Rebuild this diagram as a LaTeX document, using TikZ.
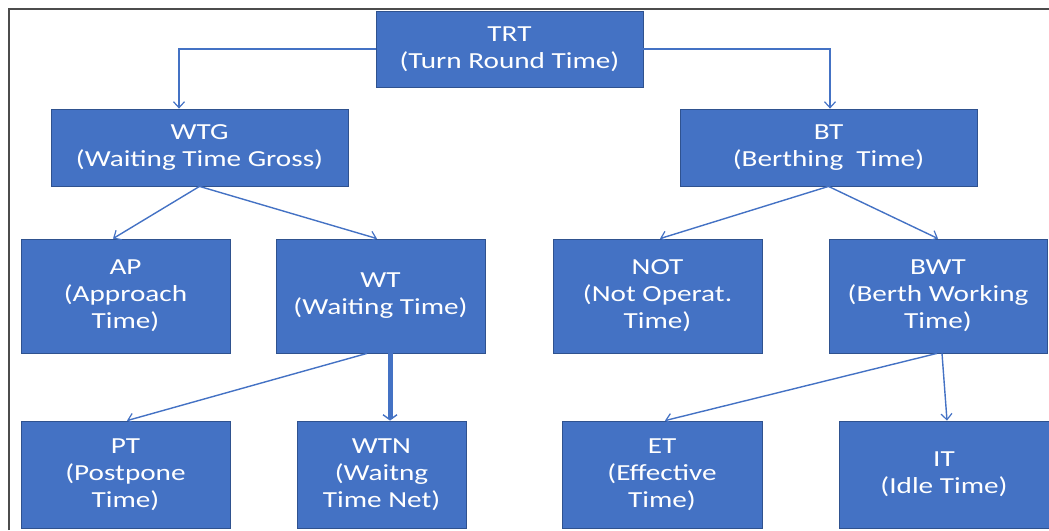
\documentclass[tikz,border=0pt]{standalone}
\usepackage{fontspec}
\setmainfont{Carlito}[FakeStretch=1.27]
\usetikzlibrary{arrows.meta}

\definecolor{boxblue}{HTML}{4472C4}
\definecolor{boxedge}{HTML}{2F528F}

\tikzset{
  box/.style={rectangle, draw=boxedge, line width=0.8pt, fill=boxblue, text=white,
    align=center, inner sep=2pt, font=\fontsize{23}{27}\selectfont},
  link/.style={draw=boxblue, line width=1.4pt, -{Straight Barb[length=6pt,width=11pt,line width=1.2pt]}},
  biglink/.style={link, line width=5pt, -{Straight Barb[length=5pt,width=14pt,line width=1.4pt]}},
  frame/.style={draw=black!70, line width=1.5pt}
}

\begin{document}
\begin{tikzpicture}[x=1pt, y=-1pt]
    \useasboundingbox (0,0) rectangle (1049,530);
    \draw[frame] (9,530) -- (9,9) -- (1049,9);

    % Nodes
    \foreach \n/\x/\y/\w/\h/\t in {
      TRT/509.5/49/267/76/{TRT\\(Turn Round Time)},
      WTG/199.5/147.5/297/77/{WTG\\(Waiting Time Gross)},
      BT/828.5/147.5/297/77/{BT\\(Berthing~ Time)},
      AP/125.5/296/209/114/{AP\\(Approach\\Time)},
      WT/380.5/296/209/114/{WT\\(Waiting Time)},
      NOT/657.5/296/209/114/{NOT\\(Not Operat.\\Time)},
      BWT/938/296/218/114/{BWT\\(Berth Working\\Time)},
      PT/125.5/474.5/209/107/{PT\\(Postpone\\Time)},
      WTN/381.5/474.5/169/107/{WTN\\(Waitng\\Time Net)},
      ET/662/474.5/200/107/{ET\\(Effective\\Time)},
      IT/944/474.5/210/107/{IT\\(Idle Time)}}
    \node[box, minimum width=\w pt, minimum height=\h pt] (\n) at (\x,\y) {\t};

    % Edges
    \draw[link] (TRT.west) -| ([xshift=-20.5pt]WTG.north);
    \draw[link] (TRT.east) -| ([xshift=1.5pt]BT.north);
    \foreach \a/\sa/\b/\sb in {WTG/0/AP/-12.5, WTG/0/WT/-3.5, BT/0/NOT/2.5, BT/0/BWT/0,
                               WT/-13.5/PT/1.5, BWT/-1/ET/3, BWT/4/IT/3}
    \draw[link] ([xshift=\sa pt]\a.south) -- ([xshift=\sb pt]\b.north);
    \draw[biglink] ([xshift=9.5pt]WT.south) -- ([xshift=8.5pt]WTN.north);
\end{tikzpicture}
\end{document}
